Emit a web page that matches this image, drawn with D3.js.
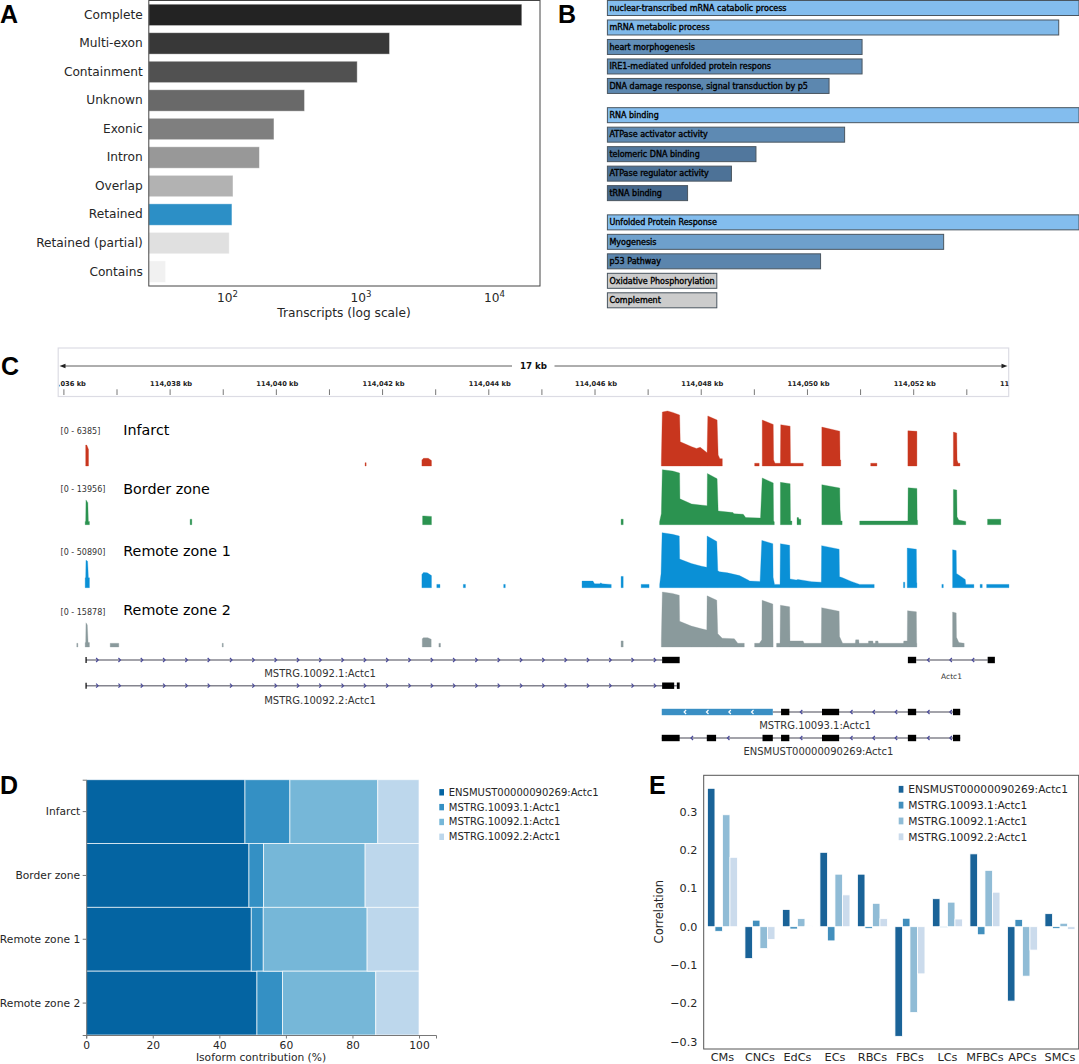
<!DOCTYPE html>
<html>
<head>
<meta charset="utf-8">
<script src="https://d3js.org/d3.v7.min.js"></script>
<style>
    body { margin: 0; background: #fff; }
    svg { display: block; font-family: "DejaVu Sans", sans-serif; }
    .letter { font-family: "Liberation Sans", sans-serif; font-weight: bold; font-size: 25px; fill: #000; }
</style>
</head>
<body>
<div id="chart"></div>
<script>
// panel A: structural categories
const categories = ["Complete", "Multi-exon", "Containment", "Unknown", "Exonic", "Intron", "Overlap", "Retained", "Retained (partial)", "Contains"];
const transcripts = [16150, 1650, 945, 381, 225, 175, 111, 109, 104, 34.7];
const categoryColors = ["#232323", "#383838", "#515151", "#696969", "#7f7f7f", "#989898", "#b2b2b2", "#2c8fc6", "#e0e0e0", "#f1f1f1"];
const logTicks = [100, 1000, 10000];
const logExponents = ["2", "3", "4"];

// panel B: enrichment terms, score as % of the top term of each block
const processTerms = ["nuclear-transcribed mRNA catabolic process", "mRNA metabolic process", "heart morphogenesis", "IRE1-mediated unfolded protein respons", "DNA damage response, signal transduction by p5"];
const processScores = [100, 95.7, 54, 54, 47];
const functionTerms = ["RNA binding", "ATPase activator activity", "telomeric DNA binding", "ATPase regulator activity", "tRNA binding"];
const functionScores = [100, 50.3, 31.5, 26.3, 17];
const hallmarkTerms = ["Unfolded Protein Response", "Myogenesis", "p53 Pathway", "Oxidative Phosphorylation", "Complement"];
const hallmarkScores = [100, 71.3, 45.2, 23.2, 23.2];
const hallmarkSignificant = [true, true, true, false, false];

// panel C: coverage blocks, [kb past 114,036, % of track maximum]
const infarctBlocks = [
    [[0.42, 38], [0.44, 38], [0.473, 30]],
    [[5.68, 6], [5.7, 6]],
    [[6.75, 11], [6.78, 14], [6.87, 14], [6.93, 10]],
    [[11.258, 8], [11.277, 98], [11.375, 100], [11.472, 97.5], [11.602, 92.7], [11.614, 44], [11.83, 35], [11.92, 32], [11.99, 34], [12.12, 24], [12.133, 91], [12.308, 83.5], [12.328, 20], [12.36, 13.4], [12.406, 13.4]],
    [[13.015, 5], [13.1, 5]],
    [[13.158, 83.5], [13.365, 75.6], [13.372, 11], [13.398, 5], [13.5, 5], [13.506, 75], [13.683, 72.5], [13.69, 5], [13.93, 5]],
    [[14.28, 70.7], [14.617, 63.4], [14.623, 11], [14.636, 11]],
    [[15.2, 5], [15.317, 5]],
    [[15.9, 64], [16.07, 63]],
    [[16.757, 61.6], [16.82, 60], [16.826, 11], [16.846, 5], [16.88, 5]]
];
const borderBlocks = [
    [[0.41, 6], [0.42, 6], [0.425, 45], [0.46, 40], [0.47, 6], [0.49, 6]],
    [[2.386, 10], [2.418, 10]],
    [[6.763, 16], [6.79, 16], [6.93, 15]],
    [[10.5, 10], [10.54, 10]],
    [[11.225, 5.5], [11.258, 20], [11.277, 100], [11.472, 97.5], [11.602, 94], [11.608, 47], [11.828, 37.6], [11.99, 35.8], [12.12, 34.5], [12.125, 93], [12.308, 83.6], [12.328, 25], [12.607, 22], [12.626, 20], [12.8, 19], [12.846, 13], [13.125, 12], [13.158, 85], [13.365, 76], [13.372, 6.7], [13.385, 5.5]],
    [[13.5, 77], [13.683, 74.5], [13.69, 6.7], [13.716, 6.7]],
    [[13.813, 13], [13.84, 13], [13.85, 10], [13.884, 10]],
    [[14.28, 72.7], [14.617, 66.7], [14.623, 28], [14.636, 6.7], [14.662, 6.7]],
    [[14.993, 6.7], [15.9, 6.7], [15.905, 67], [16.07, 66], [16.075, 8], [16.083, 8]],
    [[16.757, 64], [16.82, 63], [16.826, 14.5], [16.858, 8.5], [16.99, 6]],
    [[17.4, 10], [17.65, 10]]
];
const remote1Blocks = [
    [[0.41, 18], [0.42, 18], [0.425, 50], [0.455, 48], [0.465, 30], [0.47, 18], [0.49, 18]],
    [[6.75, 24], [6.78, 27.7], [6.85, 27], [6.93, 22]],
    [[7.03, 6], [7.09, 6]],
    [[7.53, 6], [7.57, 6]],
    [[8.29, 6], [8.32, 6]],
    [[9.765, 12], [9.97, 12], [10.0, 7], [10.1, 7], [10.12, 9], [10.14, 7], [10.315, 6]],
    [[10.5, 20.5], [10.54, 20.5]],
    [[10.878, 6], [11.027, 6]],
    [[11.227, 6], [11.253, 26], [11.273, 100], [11.467, 97], [11.596, 94], [11.603, 52], [11.823, 44], [12.017, 39], [12.114, 37], [12.12, 94], [12.302, 84], [12.321, 31], [12.354, 29], [12.503, 27], [12.729, 22], [12.891, 14], [12.923, 12], [13.117, 11.5], [13.15, 86], [13.357, 80], [13.363, 19], [13.389, 6], [13.493, 6], [13.5, 80], [13.674, 77], [13.68, 16], [13.797, 14], [13.829, 15], [14.088, 11], [14.27, 10], [14.276, 76.5], [14.606, 70], [14.613, 20], [14.671, 18], [14.833, 11.5], [14.994, 6], [15.266, 6]],
    [[15.817, 10], [15.842, 10]],
    [[15.888, 72], [16.06, 70], [16.065, 9], [16.07, 9]],
    [[16.54, 6], [16.567, 6]],
    [[16.742, 69], [16.81, 67.5], [16.815, 26], [16.905, 20], [16.98, 15], [16.99, 6], [17.143, 6]],
    [[17.26, 6], [17.3, 6]],
    [[17.383, 6], [17.803, 6]]
];
const remote2Blocks = [
    [[0.252, 6.7], [0.272, 6.7]],
    [[0.41, 8], [0.42, 8], [0.425, 44], [0.45, 40], [0.465, 8], [0.49, 8]],
    [[0.881, 6.7], [1.043, 6.7]],
    [[2.99, 6.7], [3.01, 6.7]],
    [[6.757, 15], [6.78, 17], [6.86, 17], [6.925, 14]],
    [[7.07, 6.7], [7.1, 6.7]],
    [[10.5, 11], [10.54, 11]],
    [[11.258, 13], [11.277, 100], [11.467, 97.5], [11.596, 94], [11.603, 46.7], [11.823, 38], [12.017, 33], [12.114, 31], [12.12, 93], [12.302, 85], [12.321, 24], [12.405, 16], [12.632, 15], [12.697, 6.7], [12.82, 6.7]],
    [[13.014, 6.7], [13.104, 6.7], [13.15, 13], [13.155, 85], [13.357, 78], [13.363, 1]],
    [[13.428, 6.7], [13.493, 6.7], [13.5, 76], [13.674, 73], [13.68, 11], [13.926, 11], [13.946, 6.7], [14.27, 6.7], [14.276, 71.5], [14.606, 65], [14.613, 19], [14.671, 6.7], [14.91, 6.7], [14.917, 13], [14.975, 13], [14.981, 6.7], [15.156, 6.7], [15.16, 11], [15.24, 11], [15.247, 6.7], [15.286, 6.7], [15.292, 11], [15.337, 11], [15.344, 6.7], [15.817, 6.7], [15.823, 11], [15.888, 11], [15.893, 66], [16.06, 64], [16.065, 6.7], [16.069, 6.7]],
    [[16.742, 63.6], [16.81, 62], [16.815, 17.6], [16.86, 8], [16.96, 6.7]]
];
const trackNames = ["Infarct", "Border zone", "Remote zone 1", "Remote zone 2"];
const trackRanges = ["[0 - 6385]", "[0 - 13956]", "[0 - 50890]", "[0 - 15878]"];
const trackColors = ["#c8361e", "#2b9350", "#0a90d6", "#8a9a9c"];
const rulerKb = d3.range(114036, 114055);

// panel C: transcript models, offsets in kb past 114,036
const t1Exons = [[11.273, 11.603]];
const t1Chevrons = [0.635, 1.055, 1.475, 1.895, 2.315, 2.735, 3.155, 3.575, 3.995, 4.415, 4.835, 5.255, 5.675, 6.095, 6.515, 6.935, 7.355, 7.775, 8.195, 8.615, 9.035, 9.455, 9.875, 10.295, 10.715, 11.135];
const actc1Exons = [[15.9, 16.056], [17.402, 17.538]];
const actc1Chevrons = [16.289, 16.71, 17.13];
const t2Exons = [[11.273, 11.5], [11.55, 11.603]];
const t3Exons = [[13.512, 13.668], [14.283, 14.606], [15.9, 16.056], [16.749, 16.885]];
const t3Retained = [11.266, 13.357];
const t3RetainedChevrons = [11.706, 12.127, 12.548, 12.975];
const t3Chevrons = [13.894, 14.839, 15.26, 15.68, 16.289, 16.71];
const t4Exons = [[11.266, 11.603], [12.114, 12.289], [13.163, 13.357], [13.512, 13.668], [14.283, 14.606], [15.9, 16.056], [16.749, 16.885]];
const t4Chevrons = [11.836, 12.522, 13.894, 14.839, 15.26, 15.68, 16.289, 16.71];

// panels D and E
const isoforms = ["ENSMUST00000090269:Actc1", "MSTRG.10093.1:Actc1", "MSTRG.10092.1:Actc1", "MSTRG.10092.2:Actc1"];
const zoneShares = [
    [47.7, 13.5, 26.4, 12.4],
    [48.9, 4.4, 30.5, 16.2],
    [49.6, 3.6, 31.2, 15.6],
    [51.3, 7.7, 28.0, 13.0]
];
const shareColors = ["#0464a2", "#3490c4", "#76b7d8", "#bdd7ec"];
const cellTypes = ["CMs", "CNCs", "EdCs", "ECs", "RBCs", "FBCs", "LCs", "MFBCs", "APCs", "SMCs"];
const correlations = [
    [0.361, -0.012, 0.292, 0.181],
    [-0.083, 0.017, -0.057, -0.033],
    [0.045, -0.006, 0.021, 0.002],
    [0.194, -0.037, 0.137, 0.083],
    [0.137, -0.005, 0.061, 0.021],
    [-0.286, 0.022, -0.224, -0.123],
    [0.073, -0.002, 0.064, 0.02],
    [0.19, -0.021, 0.147, 0.09],
    [-0.194, 0.019, -0.129, -0.061],
    [0.034, -0.005, 0.009, -0.007]
];
const corrColors = ["#1a6398", "#428fbd", "#90bcd6", "#cbdbec"];
const corrTicks = [-0.3, -0.2, -0.1, 0, 0.1, 0.2, 0.3];

const svg = d3.select("#chart").append("svg").attr("width", 1079).attr("height", 1064);
const textColor = "#262626";

function letter(label, x, y) {
    svg.append("text").attr("class", "letter").attr("x", x).attr("y", y).text(label);
}

function cleanAxis(g, size) {
    g.selectAll("text").style("font-family", "DejaVu Sans").style("font-size", size + "px").attr("fill", textColor);
}

letter("A", 0, 23);
letter("B", 558, 23);
letter("C", 1, 375);
letter("D", 0, 794);
letter("E", 649, 794);

// A
{
    const x = d3.scaleLog().domain([26, 22100]).range([148.8, 540]);
    const y = d3.scaleBand().domain(categories).range([0.5, 286]).paddingInner(0.25).paddingOuter(0.13);

    svg.append("g").selectAll("rect")
        .data(categories)
        .join("rect")
        .attr("x", x.range()[0])
        .attr("y", d => y(d))
        .attr("width", (d, i) => x(transcripts[i]) - x.range()[0])
        .attr("height", y.bandwidth())
        .attr("fill", (d, i) => categoryColors[i])
        .attr("stroke", "#fff")
        .attr("stroke-opacity", 0.5)
        .attr("stroke-width", 0.8);

    svg.append("rect").attr("x", 148.8).attr("y", 0.5).attr("width", 391.2).attr("height", 285.5)
        .attr("fill", "none").attr("stroke", "#444").attr("stroke-width", 1);

    const yAxis = svg.append("g").attr("transform", "translate(148.8,0)")
        .call(d3.axisLeft(y).tickSize(0).tickPadding(6));
    yAxis.select(".domain").remove();
    cleanAxis(yAxis, 12.2);

    const xAxis = svg.append("g").attr("transform", "translate(0,286)")
        .call(d3.axisBottom(x).tickValues(logTicks).tickSize(0).tickPadding(6).tickFormat(""));
    xAxis.select(".domain").remove();
    xAxis.selectAll(".tick text").each(function (d, i) {
        const t = d3.select(this).attr("dy", null).attr("y", 16);
        t.append("tspan").text("10");
        t.append("tspan").attr("dy", -5).style("font-size", "8.6px").text(logExponents[i]);
    });
    cleanAxis(xAxis, 12.2);
    xAxis.selectAll("tspan:last-child").style("font-size", "8.6px");

    svg.append("text").attr("x", 344).attr("y", 317).attr("text-anchor", "middle")
        .style("font-size", "12.2px").attr("fill", textColor).text("Transcripts (log scale)");
}

// B
{
    const x = d3.scaleLinear().domain([0, 100]).range([607.4, 1079]);
    const rowY = d3.scaleLinear().domain([0, 15]).range([8, 300.3]);
    const shade = d3.scaleLinear().domain([17, 100]).range(["#46688c", "#83bdee"]);
    const groups = [
        {terms: processTerms, scores: processScores, offset: 0, sig: processTerms.map(() => true)},
        {terms: functionTerms, scores: functionScores, offset: 5.5, sig: functionTerms.map(() => true)},
        {terms: hallmarkTerms, scores: hallmarkScores, offset: 11, sig: hallmarkSignificant}
    ];
    groups.forEach(group => {
        const rows = svg.append("g").selectAll("g")
            .data(group.terms)
            .join("g")
            .attr("transform", (d, i) => `translate(0,${rowY(group.offset + i)})`);
        rows.append("rect")
            .attr("x", x(0))
            .attr("y", -7.5)
            .attr("width", (d, i) => x(group.scores[i]) - x(0))
            .attr("height", 15)
            .attr("fill", (d, i) => group.sig[i] ? shade(group.scores[i]) : "#cccccc")
            .attr("stroke", "#4a5660")
            .attr("stroke-width", 1);
        rows.append("text")
            .attr("x", x(0) + 2)
            .attr("dy", "0.35em")
            .style("font-size", "8px")
            .attr("fill", "#000")
            .attr("stroke", "#000")
            .attr("stroke-width", 0.35)
            .text(d => d);
    });
}

// C
const kbX = d3.scaleLinear().domain([0, 17]).range([63.4, 966.3]);
{
    svg.append("clipPath").attr("id", "rulerClip").append("rect")
        .attr("x", 59.2).attr("y", 348).attr("width", 949.5).attr("height", 49);
    svg.append("rect").attr("x", 58.2).attr("y", 348).attr("width", 950.5).attr("height", 48.5)
        .attr("fill", "#fff").attr("stroke", "#dcdce4").attr("stroke-width", 1.2);

    const ruler = svg.append("g").attr("clip-path", "url(#rulerClip)").append("g")
        .attr("transform", "translate(0,395)")
        .call(d3.axisTop(kbX).tickValues(rulerKb.map(k => k - 114036)).tickSize(5.7).tickPadding(3)
            .tickFormat(d => d % 2 === 0 ? d3.format(",")(d + 114036) + " kb" : ""));
    ruler.select(".domain").remove();
    ruler.selectAll("line").attr("stroke", "#555").attr("stroke-width", 0.8);
    ruler.selectAll("text").attr("dx", 1).style("font-family", "DejaVu Sans").style("font-size", "6.7px").style("font-weight", "bold").attr("fill", "#222");

    svg.append("line").attr("x1", 62).attr("x2", 512).attr("y1", 366).attr("y2", 366).attr("stroke", "#333").attr("stroke-width", 0.8);
    svg.append("line").attr("x1", 554.5).attr("x2", 1004).attr("y1", 366).attr("y2", 366).attr("stroke", "#333").attr("stroke-width", 0.8);
    svg.append("path").attr("d", "M59.5,366L65.5,363.8V368.2Z").attr("fill", "#222");
    svg.append("path").attr("d", "M1007.5,366L1001.5,363.8V368.2Z").attr("fill", "#222");
    svg.append("text").attr("x", 533.5).attr("y", 369.2).attr("text-anchor", "middle")
        .style("font-size", "8.7px").style("font-weight", "bold").attr("fill", "#111").text("17 kb");

    const blocks = [infarctBlocks, borderBlocks, remote1Blocks, remote2Blocks];
    const baselines = [466, 524.7, 587.7, 647];
    const labelY = [430, 488.7, 551, 610];
    const rangeY = [431, 489, 551.7, 611.7];
    blocks.forEach((track, t) => {
        const y = d3.scaleLinear().domain([0, 100]).range([baselines[t], baselines[t] - 55]);
        const area = d3.area().x(d => kbX(d[0])).y0(y(0)).y1(d => y(d[1]));
        svg.append("g").selectAll("path")
            .data(track)
            .join("path")
            .attr("d", area)
            .attr("fill", trackColors[t])
            .attr("stroke", trackColors[t])
            .attr("stroke-width", 0.3);
        svg.append("text").attr("x", 60.6).attr("y", rangeY[t]).attr("dy", "0.35em")
            .style("font-size", "8px").attr("fill", "#333").text(trackRanges[t]);
        svg.append("text").attr("x", 123.3).attr("y", labelY[t]).attr("dy", "0.35em")
            .style("font-size", "14.3px").attr("fill", "#000").text(trackNames[t]);
    });

    function intronLine(y, from, to) {
        svg.append("line").attr("x1", kbX(from)).attr("x2", kbX(to)).attr("y1", y).attr("y2", y)
            .attr("stroke", "#84848e").attr("stroke-width", 1.4);
    }
    function exons(y, list) {
        svg.append("g").selectAll("rect")
            .data(list)
            .join("rect")
            .attr("x", d => kbX(d[0]))
            .attr("y", y - 3.2)
            .attr("width", d => kbX(d[1]) - kbX(d[0]))
            .attr("height", 6.4)
            .attr("fill", "#000");
    }
    function chevrons(y, list, dir, color) {
        svg.append("g").selectAll("path")
            .data(list)
            .join("path")
            .attr("d", d => `M${kbX(d) - dir},${y - 2}L${kbX(d) + dir},${y}L${kbX(d) - dir},${y + 2}`)
            .attr("fill", "none")
            .attr("stroke", color)
            .attr("stroke-width", 1.2);
    }
    function startTick(y, at) {
        svg.append("line").attr("x1", kbX(at)).attr("x2", kbX(at)).attr("y1", y - 3).attr("y2", y + 3)
            .attr("stroke", "#000").attr("stroke-width", 1.2);
    }
    function modelLabel(text, x, y, size) {
        svg.append("text").attr("x", x).attr("y", y).attr("dy", "0.35em").attr("text-anchor", "middle")
            .style("font-size", (size || 10) + "px").attr("fill", "#333").text(text);
    }

    intronLine(660, 0.427, 11.273);
    chevrons(660, t1Chevrons, 1, "#4a4a9a");
    startTick(660, 0.427);
    exons(660, t1Exons);
    intronLine(660, actc1Exons[0][1], actc1Exons[1][0]);
    chevrons(660, actc1Chevrons, -1, "#4a4a9a");
    exons(660, actc1Exons);
    modelLabel("Actc1", 951.5, 676, 7.5);
    modelLabel("MSTRG.10092.1:Actc1", 320, 673);

    intronLine(685.7, 0.427, 11.55);
    chevrons(685.7, t1Chevrons, 1, "#4a4a9a");
    startTick(685.7, 0.427);
    exons(685.7, t2Exons);
    modelLabel("MSTRG.10092.2:Actc1", 320, 700.3);

    intronLine(712, t3Retained[1], t3Exons[3][1]);
    chevrons(712, t3Chevrons, -1, "#4a4a9a");
    svg.append("rect").attr("x", kbX(t3Retained[0])).attr("y", 708.8)
        .attr("width", kbX(t3Retained[1]) - kbX(t3Retained[0])).attr("height", 6.4).attr("fill", "#3a8fc4");
    chevrons(712, t3RetainedChevrons, -1, "#fff");
    exons(712, t3Exons);
    modelLabel("MSTRG.10093.1:Actc1", 815, 725);

    intronLine(738, t4Exons[0][0], t4Exons[6][1]);
    chevrons(738, t4Chevrons, -1, "#4a4a9a");
    exons(738, t4Exons);
    modelLabel("ENSMUST00000090269:Actc1", 818.4, 751.3);
}

// D
{
    const x = d3.scaleLinear().domain([0, 105.1]).range([86.2, 436]);
    const y = d3.scaleBand().domain(trackNames).range([779.7, 1035]);
    const stacked = d3.stack().keys(d3.range(4))(zoneShares);

    svg.append("g").selectAll("g")
        .data(stacked)
        .join("g")
        .attr("fill", (d, i) => shareColors[i])
        .selectAll("rect")
        .data(d => d)
        .join("rect")
        .attr("x", d => x(d[0]))
        .attr("y", (d, i) => y(trackNames[i]))
        .attr("width", d => x(d[1]) - x(d[0]))
        .attr("height", y.bandwidth())
        .attr("stroke", "#fff")
        .attr("stroke-opacity", 0.75)
        .attr("stroke-width", 0.9);

    const yAxis = svg.append("g").attr("transform", "translate(86.2,0)")
        .call(d3.axisLeft(y).tickSize(3.5).tickPadding(2.5));
    yAxis.selectAll("path,line").attr("stroke", "#777");
    cleanAxis(yAxis, 10.7);

    const xAxis = svg.append("g").attr("transform", "translate(0,1035)")
        .call(d3.axisBottom(x).tickValues(d3.range(0, 101, 20)).tickSize(3.5).tickPadding(2.5));
    xAxis.selectAll("path,line").attr("stroke", "#777");
    cleanAxis(xAxis, 10.7);

    svg.append("text").attr("x", 261).attr("y", 1057.5).attr("dy", "0.35em").attr("text-anchor", "middle")
        .style("font-size", "10.7px").attr("fill", textColor).text("Isoform contribution (%)");

    const legend = svg.append("g").selectAll("g")
        .data(isoforms)
        .join("g")
        .attr("transform", (d, i) => `translate(439.3,${792.3 + i * 14.83})`);
    legend.append("rect").attr("y", -3.2).attr("width", 4.7).attr("height", 6.4).attr("fill", (d, i) => shareColors[i]);
    legend.append("text").attr("x", 9.5).attr("dy", "0.35em").style("font-size", "10px").attr("fill", textColor).text(d => d);
}

// E
{
    const x0 = d3.scaleBand().domain(cellTypes).range([703.7, 1078.7]).paddingInner(0.2).paddingOuter(0.1);
    const x1 = d3.scaleBand().domain(isoforms).range([0, x0.bandwidth()]);
    const y = d3.scaleLinear().domain([-0.3, 0.3]).range([1041.7, 811.7]);

    svg.append("g").selectAll("g")
        .data(cellTypes)
        .join("g")
        .attr("transform", d => `translate(${x0(d)},0)`)
        .selectAll("rect")
        .data((d, i) => correlations[i])
        .join("rect")
        .attr("x", (d, i) => x1(isoforms[i]))
        .attr("y", d => y(Math.max(d, 0)))
        .attr("width", x1.bandwidth())
        .attr("height", d => Math.abs(y(d) - y(0)))
        .attr("fill", (d, i) => corrColors[i])
        .attr("stroke", "#fff")
        .attr("stroke-width", 0.8);

    svg.append("rect").attr("x", 703.7).attr("y", 775.3).attr("width", 375).attr("height", 273.7)
        .attr("fill", "none").attr("stroke", "#555").attr("stroke-width", 1);

    const yAxis = svg.append("g").attr("transform", "translate(703.7,0)")
        .call(d3.axisLeft(y).tickValues(corrTicks).tickSize(0).tickPadding(6.4).tickFormat(d3.format(".1f")));
    yAxis.select(".domain").remove();
    cleanAxis(yAxis, 11.2);

    const xAxis = svg.append("g").attr("transform", "translate(0,1049)")
        .call(d3.axisBottom(x0).tickSize(0).tickPadding(4));
    xAxis.select(".domain").remove();
    cleanAxis(xAxis, 11.3);

    svg.append("text").attr("transform", "translate(659.3,911.7) rotate(-90)").attr("dy", "0.35em").attr("text-anchor", "middle")
        .style("font-size", "11.5px").attr("fill", textColor).text("Correlation");

    const legend = svg.append("g").selectAll("g")
        .data(isoforms)
        .join("g")
        .attr("transform", (d, i) => `translate(898.7,${789.3 + i * 15.83})`);
    legend.append("rect").attr("y", -3.4).attr("width", 4.7).attr("height", 6.8).attr("fill", (d, i) => corrColors[i]);
    legend.append("text").attr("x", 9.6).attr("dy", "0.35em").style("font-size", "10.67px").attr("fill", textColor).text(d => d);
}
</script>
</body>
</html>
